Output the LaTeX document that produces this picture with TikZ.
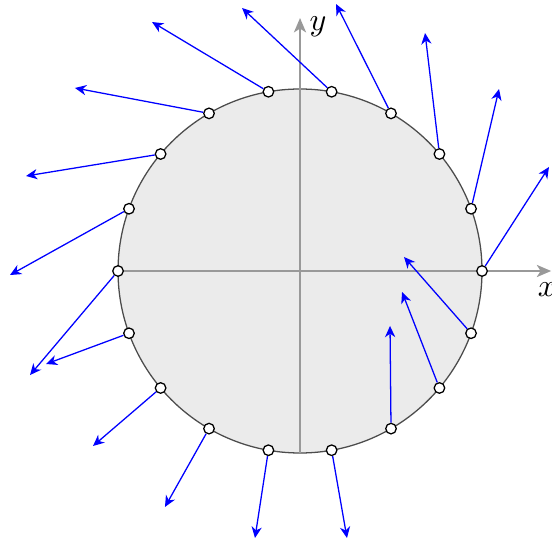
\documentclass[tikz,border=0pt]{standalone}
\usepackage{xcolor}
\usepackage{tikz}
\usetikzlibrary{arrows.meta}

\begin{document}
\begin{tikzpicture}[
    disk/.style={
        fill=black!8,
        draw=black!70
    },
    axis/.style={
        draw=black!40,
        semithick,
        -{Stealth[length=4.5pt,width=3.8pt,inset=1.2pt]}
    },
    sample/.style={
        circle,
        draw=black,
        fill=white,
        inner sep=0pt,
        minimum size=3.3pt
    },
    vec/.style={draw=blue, -{Stealth[length=3.5pt,width=3.2pt,inset=1.1pt]}}
]
    \useasboundingbox (-3.297,-3.022) rectangle (2.769,2.978);

    \draw[disk] (0,0) circle (2);

    \coordinate (xl) at (-2,0);
    \coordinate (xr) at (2.76,0);
    \coordinate (yb) at (0,-2);
    \coordinate (yt) at (0,2.78);
    \draw[axis] (xl) -- (xr);
    \draw[axis] (yb) -- (yt);
    \node (xlab) at (2.714,-0.209) {$x$};
    \node (ylab) at (0.198,2.681) {$y$};

    \foreach \a/\tx/\ty in {0/2.736/1.143, 20/2.187/2.000, 40/1.374/2.615,
        60/0.396/2.934, 80/-0.637/2.890, 100/-1.626/2.736, 120/-2.473/2.011,
        140/-3.011/1.044, 160/-3.187/-0.044, 180/-2.967/-1.143,
        200/-2.791/-1.022, 220/-2.275/-1.923, 240/-1.484/-2.593,
        260/-0.495/-2.934, 280/0.516/-2.934, 300/0.989/-0.604,
        320/1.121/-0.231, 340/1.143/0.154} {
        \node[sample] (p\a) at (\a:2) {};
        \coordinate (t\a) at (\tx,\ty);
        \draw[vec] (p\a) -- (t\a);
    }
\end{tikzpicture}
\end{document}
